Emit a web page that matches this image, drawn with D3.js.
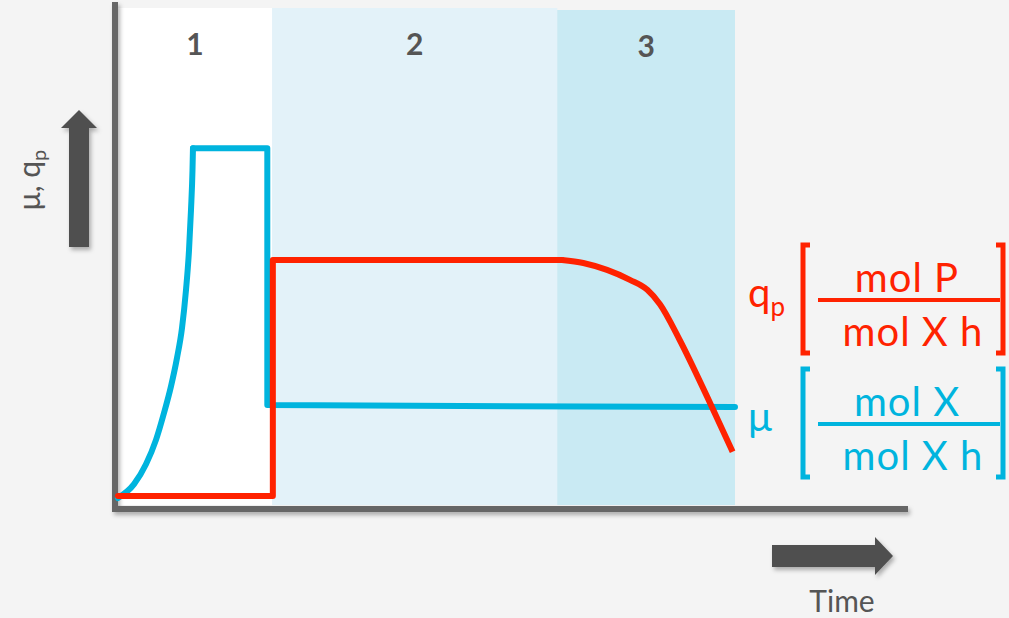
<!DOCTYPE html>
<html>
<head>
<meta charset="utf-8">
<script src="https://cdn.jsdelivr.net/npm/d3@7"></script>
<style>
  body { margin: 0; background: #f4f4f4; }
  svg { display: block; font-family: Lato, "Open Sans", sans-serif; }
</style>
</head>
<body>
<div id="chart"></div>
<script>
// phases of the process
const phaseLabels = ["1", "2", "3"];
const phaseStart = [0, 19.5, 55.6];
const phaseEnd = [19.5, 55.6, 78.1];
const phaseTop = [100, 100, 99.6];

// growth rate mu: exponential rise, then a step down
const growthTime = [0, 2.03, 3.54, 4.81, 5.82, 6.71, 7.47, 8.1, 8.61, 8.99, 9.24, 9.43, 9.49];
const growthMu = [1.4, 4.2, 8.2, 13.1, 18.5, 23.9, 29.6, 35.6, 43.3, 51.3, 59.4, 67.4, 71.8];
const muStepTime = [9.49, 18.9, 18.9, 78.1];
const muStepValue = [71.8, 71.8, 20.1, 19.7];

// specific productivity qp: step up, then decline
const qpStepTime = [0, 19.6, 19.6, 56.2];
const qpStepValue = [1.8, 1.8, 49.3, 49.3];
const qpDropTime = [56.2, 58.9, 61.9, 64.8, 67.0, 68.6, 71.1, 74.6, 77.8];
const qpDropValue = [49.3, 48.7, 47.3, 45.3, 43.3, 40.4, 33.2, 21.7, 10.7];

const width = 1009, height = 618;
const red = "#ff2200", blue = "#00b4de", grey = "#555555";
const phaseFill = ["#ffffff", "#e3f2f9", "#c9eaf3"];

const x = d3.scaleLinear().domain([0, 100]).range([118, 908]);
const y = d3.scaleLinear().domain([0, 100]).range([505, 8]);

const svg = d3.select("#chart")
  .append("svg")
  .attr("width", width)
  .attr("height", height);

const defs = svg.append("defs");
defs.append("filter")
  .attr("id", "shadow")
  .attr("x", "-20%").attr("y", "-20%")
  .attr("width", "140%").attr("height", "140%")
  .append("feDropShadow")
  .attr("dx", 2).attr("dy", 3)
  .attr("stdDeviation", 2)
  .attr("flood-color", "#000")
  .attr("flood-opacity", 0.3);

const phases = phaseLabels.map((p, i) => ({ label: p, start: phaseStart[i], end: phaseEnd[i], top: phaseTop[i] }));

// phase backgrounds
svg.append("g")
  .selectAll("rect")
  .data(phases)
  .join("rect")
  .attr("x", d => x(d.start))
  .attr("y", d => y(d.top))
  .attr("width", d => x(d.end) - x(d.start))
  .attr("height", d => y(0) - y(d.top))
  .attr("fill", (d, i) => phaseFill[i]);

svg.append("g")
  .attr("font-size", 30)
  .attr("font-weight", "bold")
  .attr("fill", grey)
  .attr("text-anchor", "middle")
  .selectAll("text")
  .data(phases)
  .join("text")
  .attr("x", d => x((d.start + d.end) / 2))
  .attr("y", d => y(d.top) + 47)
  .text(d => d.label);

// axes (no ticks)
const axisG = svg.append("g")
  .attr("stroke", "#666")
  .attr("stroke-width", 6)
  .attr("filter", "url(#shadow)");
axisG.append("line")
  .attr("x1", x(0) - 3).attr("x2", x(0) - 3)
  .attr("y1", y(101.2)).attr("y2", y(0) + 7);
axisG.append("line")
  .attr("x1", x(0) - 6).attr("x2", x(100))
  .attr("y1", y(0) + 4).attr("y2", y(0) + 4);

// lines
const smooth = d3.line().x(d => x(d[0])).y(d => y(d[1])).curve(d3.curveMonotoneX);
const straight = d3.line().x(d => x(d[0])).y(d => y(d[1]));

const lines = svg.append("g")
  .attr("fill", "none")
  .attr("stroke-width", 6)
  .attr("stroke-linejoin", "round")
  .attr("stroke-linecap", "round");

lines.append("path")
  .attr("stroke", blue)
  .attr("d", smooth(d3.zip(growthTime, growthMu)));
lines.append("path")
  .attr("stroke", blue)
  .attr("d", straight(d3.zip(muStepTime, muStepValue)));

lines.append("path")
  .attr("stroke", red)
  .attr("d", straight(d3.zip(qpStepTime, qpStepValue)));
lines.append("path")
  .attr("stroke", red)
  .attr("stroke-linecap", "butt")
  .attr("d", smooth(d3.zip(qpDropTime, qpDropValue)));

// axis arrows
svg.append("path")
  .attr("fill", "#505050")
  .attr("filter", "url(#shadow)")
  .attr("d", "M69,247 V128 H61 L79,110 L97,128 H89 V247 Z");
svg.append("path")
  .attr("fill", "#505050")
  .attr("filter", "url(#shadow)")
  .attr("d", "M772,545 H875 V537 L893,556 L875,575 V567 H772 Z");

// axis titles
const yTitle = svg.append("text")
  .attr("transform", "translate(40,180) rotate(-90)")
  .attr("text-anchor", "middle")
  .attr("font-size", 30)
  .attr("fill", grey);
yTitle.append("tspan").text("μ, q");
yTitle.append("tspan").attr("font-size", 20).attr("dy", 6).text("p");

svg.append("text")
  .attr("x", 842).attr("y", 612)
  .attr("text-anchor", "middle")
  .attr("font-size", 30)
  .attr("fill", grey)
  .text("Time");

// unit legend
const legend = [
  { sym: "q", sub: "p", num: "mol P", den: "mol X h", color: red, top: 245 },
  { sym: "μ", sub: "", num: "mol X", den: "mol X h", color: blue, top: 369 }
];

const lg = svg.append("g").selectAll("g")
  .data(legend)
  .join("g")
  .attr("transform", d => `translate(0,${d.top})`)
  .attr("fill", d => d.color)
  .attr("stroke", d => d.color);

const sym = lg.append("text")
  .attr("x", 748).attr("y", 62)
  .attr("stroke", "none")
  .attr("font-size", 40);
sym.append("tspan").text(d => d.sym);
sym.append("tspan").attr("font-size", 26).attr("dy", 9).text(d => d.sub);

lg.append("path")
  .attr("fill", "none")
  .attr("stroke-width", 5)
  .attr("d", "M810,0 H803 V108 H810 M996,0 H1003 V108 H996");

lg.append("line")
  .attr("stroke-width", 4)
  .attr("x1", 818).attr("x2", 1000)
  .attr("y1", 55).attr("y2", 55);

lg.append("text")
  .attr("stroke", "none")
  .attr("x", 907).attr("y", 47)
  .attr("text-anchor", "middle")
  .attr("font-size", 40)
  .attr("letter-spacing", 1)
  .text(d => d.num);

lg.append("text")
  .attr("stroke", "none")
  .attr("x", 913).attr("y", 101)
  .attr("text-anchor", "middle")
  .attr("font-size", 40)
  .attr("letter-spacing", 1)
  .text(d => d.den);
</script>
</body>
</html>
